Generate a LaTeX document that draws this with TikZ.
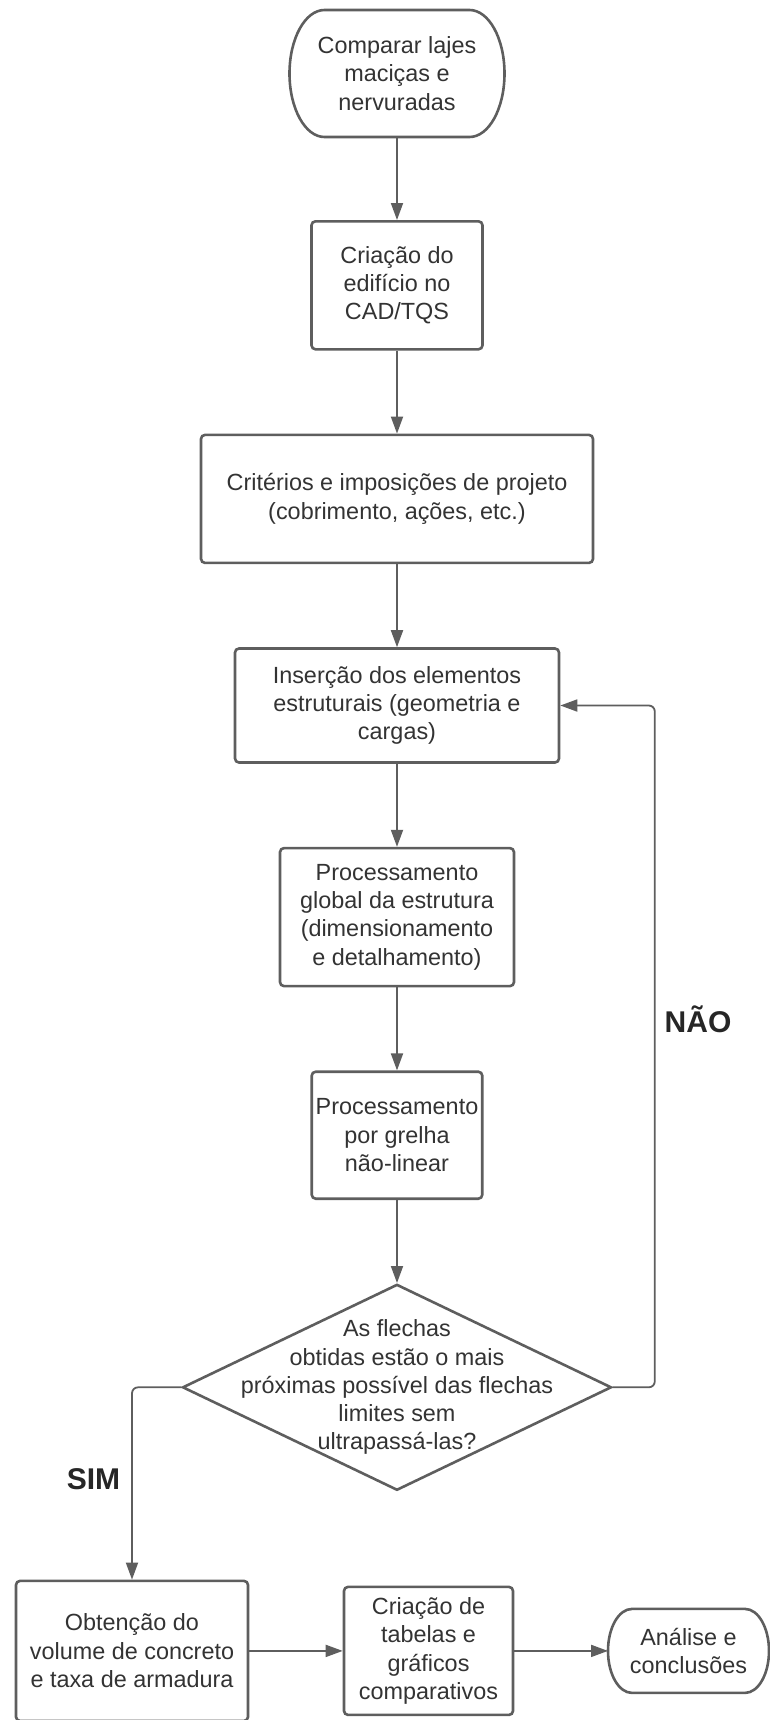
\documentclass[tikz,border=0pt]{standalone}
\usepackage{fontspec}
\setmainfont{Liberation Sans}
\usepackage{xcolor}
\usepackage{tikz}
\usetikzlibrary{positioning,arrows.meta,calc,shapes.geometric}
\definecolor{linegray}{HTML}{5E5E5E}
\definecolor{textgray}{HTML}{333333}
\definecolor{labelgray}{HTML}{262626}
\tikzset{
  box/.style={rounded corners=2pt,draw=linegray,line width=1.3pt,fill=white,align=center,inner sep=2pt,text=textgray,font=\fontsize{11.7pt}{14.15pt}\selectfont},
  terminal/.style={box,draw=none,fill=none,outer sep=0pt},
  decision/.style={diamond,draw=linegray,line width=1.3pt,fill=white,inner sep=0pt,minimum width=214.5pt,minimum height=103pt},
  edgeline/.style={draw=linegray,line width=1.3pt,line join=round},
  arrow/.style={-{Triangle[length=8.5pt,width=6pt]},draw=linegray,line width=0.9pt,rounded corners=3pt},
  answer/.style={font=\fontsize{15pt}{18pt}\selectfont\bfseries,text=labelgray,inner sep=0pt}
}
\begin{document}
\begin{tikzpicture}[node distance=41.5pt]
  \useasboundingbox (0,0) rectangle (385pt,-860pt);
  \node[terminal,minimum width=107.5pt,minimum height=63.5pt] (start) at (198.5pt,-36.75pt) {Comparar lajes\\maciças e\\nervuradas};
  \node[box,below=of start,minimum width=85.5pt,minimum height=64pt] (cad) {Criação do\\edifício no\\CAD/TQS};
  \node[box,below=of cad,minimum width=196pt,minimum height=64pt] (criterios) {Critérios e imposições de projeto\\(cobrimento, ações, etc.)};
  \node[box,below=of criterios,minimum width=162pt,minimum height=57pt] (insercao) {Inserção dos elementos\\estruturais (geometria e\\cargas)};
  \node[box,below=of insercao,minimum width=117pt,minimum height=69pt] (global) {Processamento\\global da estrutura\\(dimensionamento\\e detalhamento)};
  \node[box,below=of global,minimum width=85pt,minimum height=63.5pt] (grelha) {Processamento\\por grelha\\não-linear};
  \node[decision,below=of grelha] (flechas) {};
  \node[box,draw=none,fill=none] (pergunta) at (flechas) {As flechas\\obtidas estão o mais\\próximas possível das flechas\\limites sem\\ultrapassá-las?};
  \node[box,below=44pt of flechas,xshift=-132.5pt,minimum width=116pt,minimum height=70pt] (volume) {Obtenção do\\volume de concreto\\e taxa de armadura};
  \node[box,right=46.7pt of volume,minimum width=84.5pt,minimum height=64pt] (tabelas) {Criação de\\tabelas e\\gráficos\\comparativos};
  \node[terminal,right=46.85pt of tabelas,minimum width=80.5pt,minimum height=42pt] (analise) {Análise e\\conclusões};
  % terminal outlines with elliptic ends
  \foreach \n/\rx/\ry in {start/17.5pt/31.75pt,analise/12pt/21pt}
    \draw[edgeline] ([xshift=\rx]\n.north west) -- ([xshift=-\rx]\n.north east)
      arc[start angle=90,end angle=-90,x radius=\rx,y radius=\ry]
      -- ([xshift=\rx]\n.south west)
      arc[start angle=270,end angle=90,x radius=\rx,y radius=\ry] -- cycle;
  \draw[arrow] (start) -- (cad);
  \draw[arrow] (cad) -- (criterios);
  \draw[arrow] (criterios) -- (insercao);
  \draw[arrow] (insercao) -- (global);
  \draw[arrow] (global) -- (grelha);
  \draw[arrow] (grelha) -- (flechas);
  \draw[arrow] (flechas.east) -- ++(21pt,0) |- node[answer,pos=0.27,right=4.5pt] {NÃO} (insercao.east);
  \draw[arrow] (flechas.west) -| node[answer,pos=0.74,left=5.5pt] {SIM} (volume.north);
  \draw[arrow] (volume) -- (tabelas);
  \draw[arrow] (tabelas) -- (analise);
\end{tikzpicture}
\end{document}
